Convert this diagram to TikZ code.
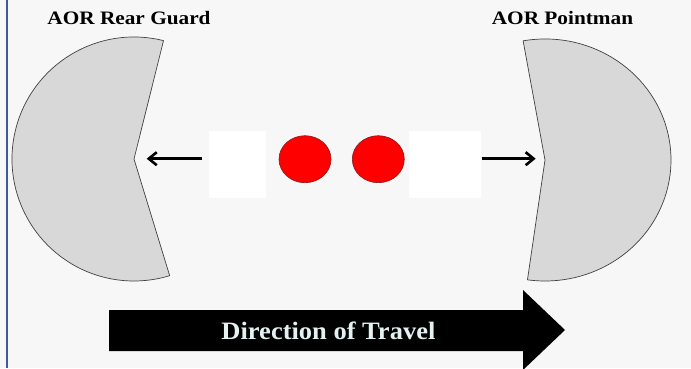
\documentclass[tikz,border=0pt]{standalone}
\usepackage{fontspec}
\setmainfont{Liberation Serif}
\newfontfamily\labelfont[FakeStretch=1.12]{Liberation Serif}
\newfontfamily\travelfont[FakeStretch=1.06]{Liberation Serif}
\usetikzlibrary{arrows.meta,shapes.geometric}
\definecolor{bgc}{HTML}{F7F7F7}
\definecolor{shapegrey}{HTML}{D8D8D8}
\definecolor{edgegrey}{HTML}{404040}
\definecolor{dotred}{HTML}{FF0000}
\definecolor{dotedge}{HTML}{8A1A1A}
\definecolor{sideline}{HTML}{3D5C9C}
\definecolor{traveltext}{HTML}{E4F1F1}
\tikzset{
  sector/.style={fill=shapegrey,draw=edgegrey,line width=0.7pt},
  dot/.style={ellipse,fill=dotred,draw=dotedge,line width=0.6pt,minimum width=52pt,minimum height=47pt,inner sep=0pt},
  whitebox/.style={fill=white,draw=none,inner sep=0pt},
  pointer/.style={line width=2.8pt,-{Straight Barb[length=8pt,width=13pt,line width=2.6pt]}},
  title/.style={font=\labelfont\fontsize{19}{21}\selectfont\bfseries,text=black,anchor=base,inner sep=0pt},
  traveltitle/.style={font=\travelfont\fontsize{25}{28}\selectfont\bfseries,text=traveltext,anchor=base,inner sep=0pt}
}
\begin{document}
\begin{tikzpicture}[x=1pt,y=1pt]
\useasboundingbox (0,0) rectangle (691,368);
\fill[bgc] (0,0) rectangle (691,368);
\draw[sideline,line width=1.5pt] (7,0) -- (7,368);

% sectors
\coordinate (lnotch) at (134,209);
\coordinate (rnotch) at (545,208);
\draw[sector] (lnotch) -- ++(76:122) arc[start angle=76,end angle=287,radius=122] -- cycle;
\draw[sector] (rnotch) -- ++({126*cos(100)},{121*sin(100)}) arc[start angle=100,end angle=-98,x radius=126,y radius=121] -- cycle;

% white boxes
\node[whitebox,minimum width=56.7pt,minimum height=67.5pt] (lbox) at (237.3,203.75) {};
\node[whitebox,minimum width=72pt,minimum height=67.5pt] (rbox) at (445,203.75) {};

% dots
\node[dot] (d1) at (305,208.8) {};
\node[dot] (d2) at (378.3,208.8) {};

% pointers
\coordinate (lstart) at (202,209.3);
\coordinate (rstart) at (481.7,209.3);
\draw[pointer,shorten >=12.7pt] (lstart) -- (lnotch |- lstart);
\draw[pointer,shorten >=9.3pt] (rstart) -- (rnotch |- rstart);

% labels
\node[title] (lrear) at (129,343.7) {AOR Rear Guard};
\node[title] (lpoint) at (562.5,343.7) {AOR Pointman};

% direction arrow
\fill[black] (109,58) -- (523,58) -- (523,78) -- (565,38) -- (523,-2) -- (523,17) -- (109,17) -- cycle;
\node[traveltitle] (travel) at (328.4,29) {Direction of Travel};
\end{tikzpicture}
\end{document}
